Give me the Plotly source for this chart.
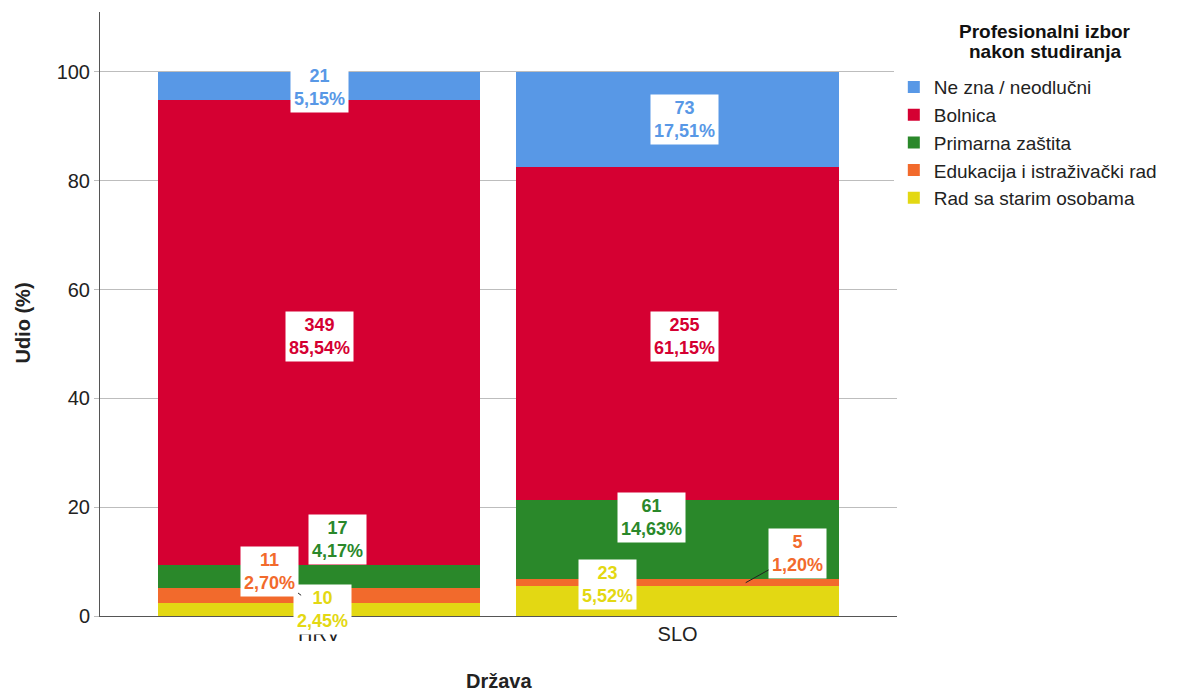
import plotly.graph_objects as go

# ---- data ----
countries = ["HRV", "SLO"]
x_pos = [0, 1]
series_names = ["Rad sa starim osobama", "Edukacija i istraživački rad", "Primarna zaštita", "Bolnica", "Ne zna / neodlučni"]
counts = {
    "Rad sa starim osobama": [10, 23],
    "Edukacija i istraživački rad": [11, 5],
    "Primarna zaštita": [17, 61],
    "Bolnica": [349, 255],
    "Ne zna / neodlučni": [21, 73],
}
percents = {
    "Rad sa starim osobama": [2.45, 5.52],
    "Edukacija i istraživački rad": [2.70, 1.20],
    "Primarna zaštita": [4.17, 14.63],
    "Bolnica": [85.54, 61.15],
    "Ne zna / neodlučni": [5.15, 17.51],
}
y_ticks = [0, 20, 40, 60, 80, 100]
legend_title_lines = ["Profesionalni izbor", "nakon studiranja"]

# ---- styles ----
colors = {
    "Rad sa starim osobama": "#E3D813",
    "Edukacija i istraživački rad": "#F26A2C",
    "Primarna zaštita": "#2A882A",
    "Bolnica": "#D50032",
    "Ne zna / neodlučni": "#5898E6",
}
# label pixel offsets (dx, dy) relative to segment centre, and leader flags
label_offsets = {
    "Rad sa starim osobama": [(3, 0, False), (-70, 16, False)],
    "Edukacija i istraživački rad": [(-50, 24, True), (120, 29, True)],
    "Primarna zaštita": [(18, 37, False), (-26, 22, False)],
    "Bolnica": [(0, -4, False), (7, -3, False)],
    "Ne zna / neodlučni": [(0, -2, False), (7, 0, False)],
}
FONT = "Liberation Sans, Arial, sans-serif"
PX_PER_X = 358.5

fig = go.Figure()
for name in series_names:
    fig.add_trace(go.Bar(
        x=x_pos, y=percents[name], name=name,
        marker=dict(color=colors[name], line=dict(width=0)),
        width=0.9, hoverinfo="skip",
    ))

annotations = []
cum = [0.0, 0.0]
for name in series_names:
    for i, xv in enumerate(x_pos):
        p = percents[name][i]
        mid = cum[i] + p / 2
        cum[i] += p
        dx, dy, leader = label_offsets[name][i]
        txt = f"{counts[name][i]}<br>{p:.2f}%".replace(".", ",")
        common = dict(
            text=txt, xref="x", yref="y",
            font=dict(family=FONT, size=18, color=colors[name], weight="bold"),
            bgcolor="white", borderpad=3, align="center",
        )
        if leader:
            px = xv - 0.05 if i == 0 else xv + 0.19
            annotations.append(dict(
                x=px, y=mid, showarrow=True, arrowhead=0, arrowwidth=1,
                arrowcolor="#222222", axref="pixel", ayref="pixel",
                ax=dx - (px - xv) * PX_PER_X, ay=-dy, standoff=0, **common,
            ))
        else:
            annotations.append(dict(
                x=xv, y=mid, showarrow=False, xshift=dx, yshift=dy, **common,
            ))

# axis titles
annotations.append(dict(
    text="<b>Država</b>", xref="paper", yref="paper", x=0.5, y=-0.108,
    xanchor="center", yanchor="middle", showarrow=False,
    font=dict(family=FONT, size=20, color="#222222"),
))
annotations.append(dict(
    text="<b>Udio (%)</b>", xref="paper", yref="paper", x=-0.096, y=0.485,
    xanchor="center", yanchor="middle", showarrow=False, textangle=-90,
    font=dict(family=FONT, size=20, color="#222222"),
))
# legend title (two lines, tight spacing)
for j, line in enumerate(legend_title_lines):
    annotations.append(dict(
        text=f"<b>{line}</b>", xref="paper", yref="paper", x=1.186, y=0.967 - j * 0.033,
        xanchor="center", yanchor="middle", showarrow=False,
        font=dict(family=FONT, size=19, color="#111111"),
    ))

fig.update_layout(
    width=1200, height=693,
    margin=dict(l=100, r=303, t=12, b=77, autoexpand=False),
    paper_bgcolor="white", plot_bgcolor="white",
    barmode="stack", bargap=0,
    font=dict(family=FONT, size=20, color="#222222"),
    annotations=annotations,
    legend=dict(
        x=0.996, y=0.907, xanchor="left", yanchor="top",
        traceorder="reversed",
        font=dict(size=19), itemclick=False,
    ),
    xaxis=dict(
        range=[-0.611, 1.612], tickmode="array", tickvals=x_pos, ticktext=countries,
        showline=True, linecolor="#555555", linewidth=1, showgrid=False,
        ticks="", zeroline=False, tickfont=dict(size=20), automargin=False,
    ),
    yaxis=dict(
        range=[0, 111], tickvals=y_ticks,
        showline=True, linecolor="#555555", linewidth=1,
        showgrid=True, gridcolor="#BDBDBD", gridwidth=1,
        ticks="outside", ticklen=5, tickcolor="#BDBDBD", zeroline=False,
        tickfont=dict(size=20), automargin=False,
    ),
)

fig.write_html(
    "out.html",
    config={"displayModeBar": False},
    post_script="document.body.style.margin='0';document.body.style.overflow='hidden';",
)
